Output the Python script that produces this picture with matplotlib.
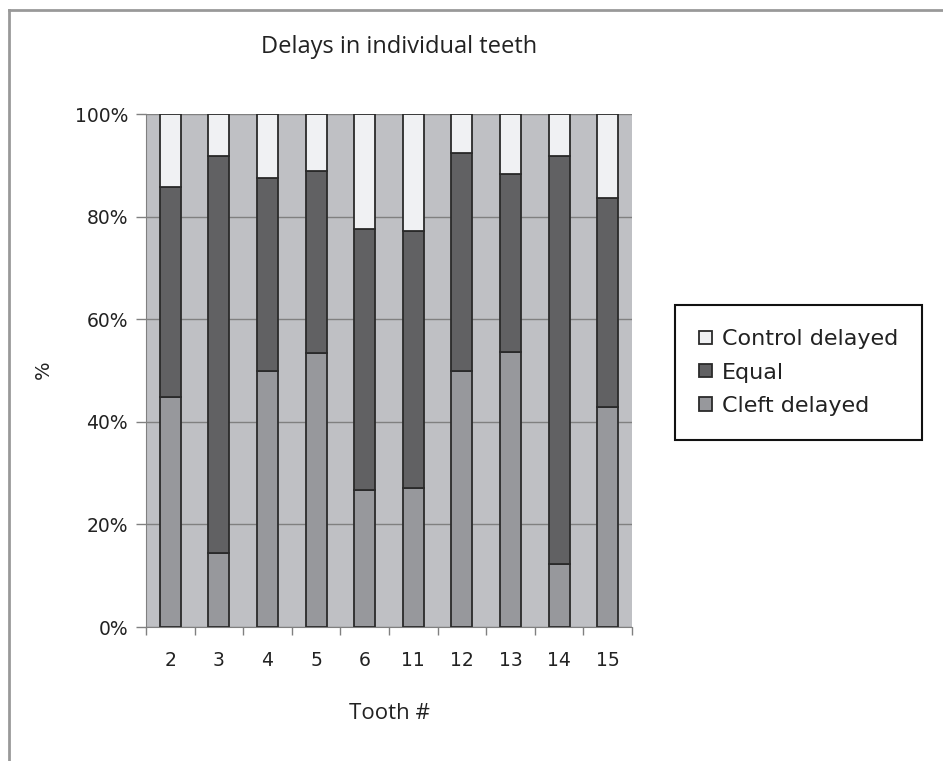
import numpy as np
import matplotlib.pyplot as plt
from matplotlib.lines import Line2D

# data (percent)
teeth = ["2", "3", "4", "5", "6", "11", "12", "13", "14", "15"]
cleft_delayed = [44.9, 14.4, 50.0, 53.4, 26.7, 27.1, 50.0, 53.6, 12.3, 42.9]
equal = [40.8, 77.5, 37.6, 35.6, 50.9, 50.2, 42.5, 34.7, 79.6, 40.8]
control_delayed = [14.3, 8.1, 12.4, 11.0, 22.4, 22.7, 7.5, 11.7, 8.1, 16.3]

c_control = "#f0f1f3"
c_equal = "#616163"
c_cleft = "#97989c"
bg = "#bfc0c4"
txt = "#222222"

fig = plt.figure(figsize=(9.43, 7.61), dpi=100)
ax = fig.add_axes([0.1548, 0.176, 0.5154, 0.674])
ax.set_facecolor(bg)

x = np.arange(len(teeth))
w = 0.43
ek = dict(edgecolor="#2a2a2a", linewidth=1.3, width=w, zorder=3)
b1 = ax.bar(x, cleft_delayed, color=c_cleft, label="Cleft delayed", **ek)
b2 = ax.bar(x, equal, bottom=cleft_delayed, color=c_equal, label="Equal", **ek)
bot3 = np.array(cleft_delayed) + np.array(equal)
b3 = ax.bar(x, control_delayed, bottom=bot3, color=c_control,
            label="Control delayed", **ek)

ax.set_xlim(-0.5, len(teeth) - 0.5)
ax.set_ylim(0, 100)
ax.set_yticks(range(0, 101, 20))
ax.set_yticklabels([f"{v}%" for v in range(0, 101, 20)])
ax.yaxis.grid(True, color="#808080", linewidth=1.0, zorder=0)
ax.set_axisbelow(True)

ax.set_xticks(x)
ax.set_xticklabels(teeth)
ax.set_xticks(np.arange(-0.5, len(teeth)), minor=True)
ax.tick_params(axis="x", which="major", length=0, pad=17,
               labelsize=13.5, labelcolor=txt)
ax.tick_params(axis="x", which="minor", length=6, color="#808080", width=1)
ax.tick_params(axis="y", length=7, color="#808080", width=1, pad=6,
               labelsize=13.5, labelcolor=txt)

for s in ["top", "right"]:
    ax.spines[s].set_visible(False)
for s in ["left", "bottom"]:
    ax.spines[s].set_color("#808080")

fig.text(0.423, 0.938, "Delays in individual teeth", ha="center", va="center",
         fontsize=17, family="Open Sans", weight="medium", color=txt)
fig.text(0.413, 0.062, "Tooth #", ha="center", va="center",
         fontsize=16, family="Open Sans", weight="medium", color=txt)
fig.text(0.046, 0.514, "%", ha="center", va="center", rotation=90,
         fontsize=14, color=txt)

leg = fig.legend(handles=[b3, b2, b1], labels=["Control delayed", "Equal", "Cleft delayed"],
                 loc="center", bbox_to_anchor=(0.847, 0.5105),
                 bbox_transform=fig.transFigure, fontsize=16,
                 handlelength=0.55, handleheight=0.55, handletextpad=0.45,
                 labelspacing=0.6, borderpad=1.1, fancybox=False,
                 framealpha=1, edgecolor="#111111")
leg.get_frame().set_linewidth(1.5)
for t in leg.get_texts():
    t.set_color(txt)

# outer frame (top and left)
fig.add_artist(Line2D([9 / 943, 1], [1 - 10 / 761, 1 - 10 / 761],
                      transform=fig.transFigure, color="#999999", linewidth=2))
fig.add_artist(Line2D([9 / 943, 9 / 943], [0, 1 - 10 / 761],
                      transform=fig.transFigure, color="#999999", linewidth=2))

fig.savefig("out.png", dpi=100)
